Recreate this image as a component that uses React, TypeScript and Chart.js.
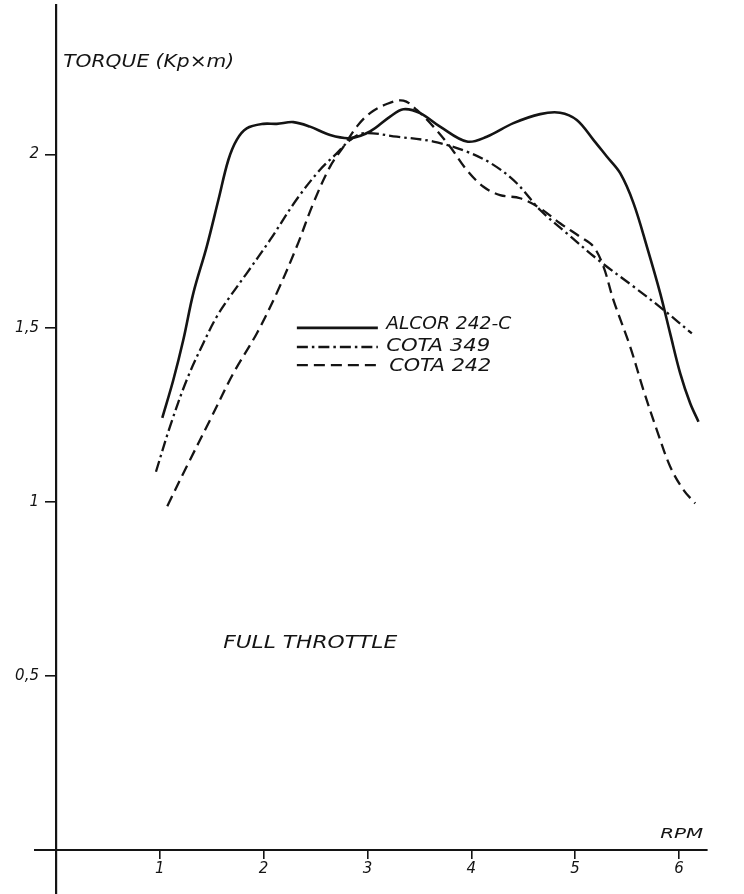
import React, { useEffect, useRef } from 'react';
import { Chart, registerables } from 'chart.js';

Chart.register(...registerables);

// ---- data (RPM in thousands, torque in kp·m) ----
const xTicks = [1, 2, 3, 4, 5, 6];
const yTicks = [0.5, 1, 1.5, 2];

const alcorRpm = [1.024, 1.13, 1.226, 1.323, 1.452, 1.564, 1.66, 1.741, 1.837, 1.997, 2.126, 2.286, 2.447, 2.64, 2.832, 3.025, 3.218, 3.346, 3.507, 3.699, 3.957, 4.149, 4.406, 4.663, 4.855, 5.016, 5.176, 5.305, 5.434, 5.562, 5.691, 5.819, 5.915, 6.012, 6.108, 6.188];
const alcorTorque = [1.242, 1.351, 1.466, 1.601, 1.735, 1.869, 1.984, 2.042, 2.075, 2.088, 2.088, 2.093, 2.08, 2.056, 2.047, 2.066, 2.109, 2.13, 2.119, 2.08, 2.037, 2.051, 2.09, 2.116, 2.12, 2.099, 2.042, 1.994, 1.946, 1.86, 1.735, 1.601, 1.485, 1.37, 1.284, 1.231];

const cota349Rpm = [0.963, 1.098, 1.259, 1.419, 1.548, 1.676, 1.837, 2.062, 2.319, 2.543, 2.704, 2.832, 2.961, 3.282, 3.635, 3.957, 4.213, 4.438, 4.663, 4.92, 5.241, 5.562, 5.851, 6.124];
const cota349Torque = [1.087, 1.217, 1.351, 1.457, 1.533, 1.591, 1.658, 1.754, 1.871, 1.956, 2.003, 2.041, 2.061, 2.051, 2.037, 2.008, 1.97, 1.917, 1.84, 1.773, 1.692, 1.62, 1.553, 1.485];

const cota242Rpm = [1.072, 1.259, 1.484, 1.708, 1.934, 2.126, 2.319, 2.479, 2.64, 2.768, 2.897, 3.025, 3.186, 3.346, 3.475, 3.635, 3.796, 3.957, 4.117, 4.277, 4.47, 4.663, 4.855, 5.048, 5.176, 5.273, 5.369, 5.53, 5.658, 5.787, 5.915, 6.043, 6.156];
const cota242Torque = [0.988, 1.102, 1.236, 1.37, 1.485, 1.601, 1.735, 1.86, 1.965, 2.022, 2.08, 2.119, 2.145, 2.155, 2.128, 2.08, 2.022, 1.955, 1.907, 1.883, 1.874, 1.845, 1.802, 1.763, 1.735, 1.677, 1.581, 1.447, 1.322, 1.207, 1.102, 1.035, 0.996];

const seriesNames = ['ALCOR 242-C', 'COTA 349', 'COTA 242'];
const yTitle = 'TORQUE (Kp×m)';
const xTitle = 'RPM';
const note = 'FULL THROTTLE';

const INK = '#141414';
const FONT = '"DejaVu Sans", sans-serif';

const zip = (xs: number[], ys: number[]) => xs.map((x, i) => ({ x, y: ys[i] }));
const fmt = (v: number) => String(v).replace('.', ',');

const textPlugin = {
  id: 'annotTexts',
  afterDraw(chart: any) {
    const { ctx } = chart;
    const xs = chart.scales.x;
    const ys = chart.scales.y;
    // draw text left-aligned at (x, y), stretched horizontally to the given width
    const put = (t: string, x: number, y: number, size: number, width: number) => {
      ctx.font = `italic ${size}px ${FONT}`;
      const w = ctx.measureText(t).width;
      ctx.save();
      ctx.translate(x, y);
      ctx.scale(width / w, 1);
      ctx.fillText(t, 0, 0);
      ctx.restore();
    };
    ctx.save();
    ctx.fillStyle = INK;
    ctx.textBaseline = 'middle';
    // y tick labels (left of the tick marks)
    ctx.textAlign = 'right';
    ctx.font = `italic 15px ${FONT}`;
    const axisX = xs.getPixelForValue(0);
    ys.ticks.forEach((t: any) => {
      ctx.fillText(fmt(t.value), axisX - 17, ys.getPixelForValue(t.value));
    });
    ctx.textAlign = 'left';
    // y title
    put(yTitle, xs.getPixelForValue(0.07), ys.getPixelForValue(2.265), 17, 171);
    // x title
    put(xTitle, xs.getPixelForValue(5.82), ys.getPixelForValue(0.045), 14, 43);
    // note
    put(note, xs.getPixelForValue(1.61), ys.getPixelForValue(0.594), 18, 174);
    // legend
    const lx0 = xs.getPixelForValue(2.32);
    const lx1 = xs.getPixelForValue(3.10);
    const lineY = [1.501, 1.446, 1.394];
    const textY = [1.512, 1.449, 1.391];
    const textX = [3.18, 3.18, 3.21];
    const textW = [125, 104, 102];
    chart.data.datasets.forEach((ds: any, i: number) => {
      const y = ys.getPixelForValue(lineY[i]);
      ctx.beginPath();
      ctx.setLineDash(ds.borderDash || []);
      ctx.lineWidth = ds.borderWidth;
      ctx.strokeStyle = INK;
      ctx.moveTo(lx0, y);
      ctx.lineTo(lx1, y);
      ctx.stroke();
      ctx.setLineDash([]);
      put(ds.label, xs.getPixelForValue(textX[i]), ys.getPixelForValue(textY[i]), 18, textW[i]);
    });
    ctx.restore();
  },
};

export default function App() {
  const ref = useRef<HTMLCanvasElement>(null);
  useEffect(() => {
    if (!ref.current) return;
    const zeroPad = (s: any) => {
      s.paddingLeft = 0;
      s.paddingRight = 0;
      s.paddingTop = 0;
      s.paddingBottom = 0;
    };
    const chart = new Chart(ref.current, {
      type: 'line',
      data: {
        datasets: [
          {
            label: seriesNames[0],
            data: zip(alcorRpm, alcorTorque),
            borderColor: INK,
            borderWidth: 2.6,
            pointRadius: 0,
            tension: 0.35,
            fill: false,
          },
          {
            label: seriesNames[1],
            data: zip(cota349Rpm, cota349Torque),
            borderColor: INK,
            borderWidth: 2.3,
            borderDash: [11, 4, 2.5, 4],
            pointRadius: 0,
            tension: 0.35,
            fill: false,
          },
          {
            label: seriesNames[2],
            data: zip(cota242Rpm, cota242Torque),
            borderColor: INK,
            borderWidth: 2.3,
            borderDash: [11, 6],
            pointRadius: 0,
            tension: 0.35,
            fill: false,
          },
        ],
      },
      options: {
        animation: false,
        responsive: false,
        devicePixelRatio: 1,
        layout: { padding: { left: 35, right: 37, top: 5, bottom: 0 } },
        plugins: { legend: { display: false }, tooltip: { enabled: false } },
        scales: {
          x: {
            type: 'linear',
            min: -0.202,
            max: 6.27,
            position: { y: 0 } as any,
            afterBuildTicks: (s: any) => {
              s.ticks = xTicks.map((v) => ({ value: v }));
            },
            afterFit: zeroPad,
            grid: { drawOnChartArea: false, drawTicks: true, tickLength: 8, color: INK, lineWidth: 1.6 },
            border: { display: true, color: INK, width: 2 },
            ticks: {
              color: INK,
              font: { family: FONT, size: 15, style: 'italic' },
              padding: 3,
              maxRotation: 0,
              autoSkip: false,
              callback: (v: any) => String(v),
            },
          },
          y: {
            type: 'linear',
            min: -0.128,
            max: 2.43,
            position: { x: 0 } as any,
            afterBuildTicks: (s: any) => {
              s.ticks = yTicks.map((v) => ({ value: v }));
            },
            afterFit: zeroPad,
            grid: { drawOnChartArea: false, drawTicks: true, tickLength: 10, color: INK, lineWidth: 1.6 },
            border: { display: true, color: INK, width: 2.2 },
            ticks: { display: false },
          },
        },
      },
      plugins: [textPlugin],
    });
    return () => chart.destroy();
  }, []);
  return (
    <div style={{ position: 'absolute', left: 0, top: 0, width: 744, height: 894, background: '#fff' }}>
      <canvas ref={ref} width={744} height={894} style={{ display: 'block', width: 744, height: 894 }} />
    </div>
  );
}
